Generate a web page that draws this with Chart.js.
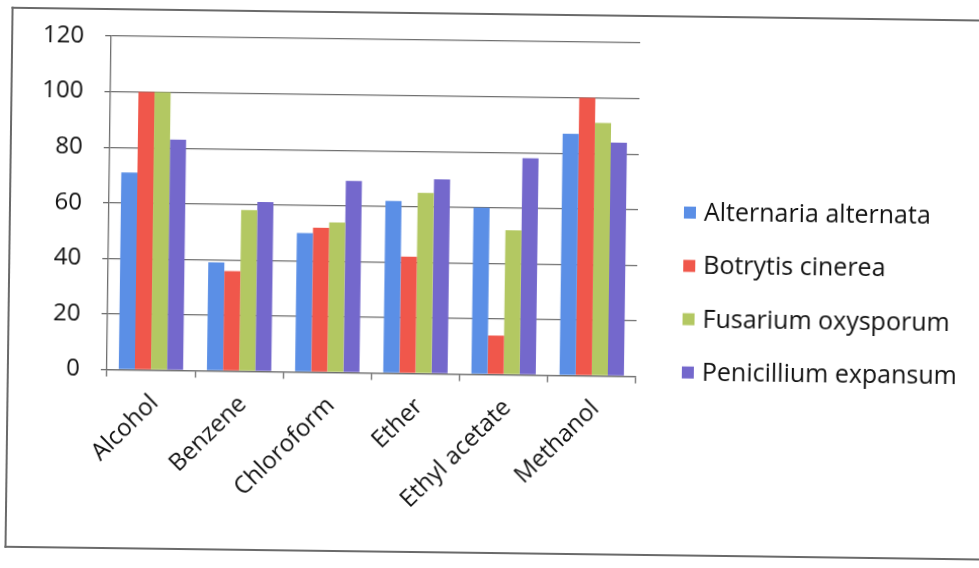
<!DOCTYPE html>
<html>
<head>
<meta charset="utf-8">
<script src="https://cdn.jsdelivr.net/npm/chart.js@4.4.1/dist/chart.umd.min.js"></script>
<style>
  html, body { margin: 0; padding: 0; background: #ffffff; overflow: hidden; }
  #sheet {
    position: relative; width: 979px; height: 568px;
    transform: rotate(0.75deg); transform-origin: 50% 50%;
  }
  #frame {
    position: absolute; left: 8px; top: 13px; width: 1000px; height: 541px;
    border: 2px solid #6a6a6a; border-right: none; box-sizing: border-box;
  }
  #chart { position: absolute; left: 0; top: 0; }
</style>
</head>
<body>
<div id="sheet">
  <div id="frame"></div>
  <canvas id="chart" width="979" height="568"></canvas>
</div>
<script>
// Solvents tested (x axis)
const solvents = ['Alcohol', 'Benzene', 'Chloroform', 'Ether', 'Ethyl acetate', 'Methanol'];

// Series names
const fungi = ['Alternaria alternata', 'Botrytis cinerea', 'Fusarium oxysporum', 'Penicillium expansum'];

// Values per fungus, one entry per solvent
const alternaria  = [71, 39, 50, 62, 60, 87];
const botrytis    = [100, 36, 52, 42, 14, 100];
const fusarium    = [100, 58, 54, 65, 52, 91];
const penicillium = [83, 61, 69, 70, 78, 84];

// Y axis tick values
const yTicks = [0, 20, 40, 60, 80, 100, 120];

const seriesValues = [alternaria, botrytis, fusarium, penicillium];
const seriesColors = ['#5b8fe6', '#f0574b', '#b3c862', '#7468cc'];

const FONT = '"Open Sans", "DejaVu Sans", sans-serif';
const INK = '#111111';
const GRID = '#6f6f6f';

// Legend drawn at the right of the plot, one row per dataset
const sideLegend = {
  id: 'sideLegend',
  afterDraw(chart) {
    const ctx = chart.ctx;
    ctx.save();
    ctx.font = '25px ' + FONT;
    ctx.textBaseline = 'middle';
    ctx.textAlign = 'left';
    chart.data.datasets.forEach((ds, i) => {
      const cy = 210 + i * 53.3;
      ctx.fillStyle = ds.backgroundColor;
      ctx.fillRect(683, cy - 6, 12, 12);
      ctx.fillStyle = INK;
      ctx.fillText(ds.label, 703, cy + 1);
    });
    ctx.restore();
  }
};

new Chart(document.getElementById('chart'), {
  type: 'bar',
  data: {
    labels: solvents,
    datasets: fungi.map((name, i) => ({
      label: name,
      data: seriesValues[i],
      backgroundColor: seriesColors[i],
      borderWidth: 0,
      categoryPercentage: 0.73,
      barPercentage: 1.0
    }))
  },
  options: {
    responsive: false,
    animation: false,
    devicePixelRatio: 1,
    layout: { padding: { top: 41, left: 8, right: 342, bottom: 14 } },
    plugins: {
      legend: { display: false },
      tooltip: { enabled: false }
    },
    scales: {
      x: {
        offset: true,
        grid: {
          offset: true,
          drawOnChartArea: false,
          drawTicks: true,
          tickLength: 7,
          color: GRID,
          lineWidth: 1.3
        },
        border: { display: true, color: GRID, width: 1.3 },
        ticks: {
          color: INK,
          font: { family: FONT, size: 24 },
          minRotation: 45,
          maxRotation: 45,
          padding: 12,
          labelOffset: 4
        },
        afterFit(scale) { scale.height = 179.5; }
      },
      y: {
        min: 0,
        max: 120,
        afterBuildTicks(scale) { scale.ticks = yTicks.map(v => ({ value: v })); },
        grid: {
          color: GRID,
          lineWidth: 1.3,
          tickLength: 6,
          drawTicks: true
        },
        border: { display: true, color: GRID, width: 1.3 },
        ticks: {
          color: INK,
          font: { family: FONT, size: 24 },
          padding: 21
        },
        afterFit(scale) { scale.width = 100; }
      }
    }
  },
  plugins: [sideLegend]
});
</script>
</body>
</html>
